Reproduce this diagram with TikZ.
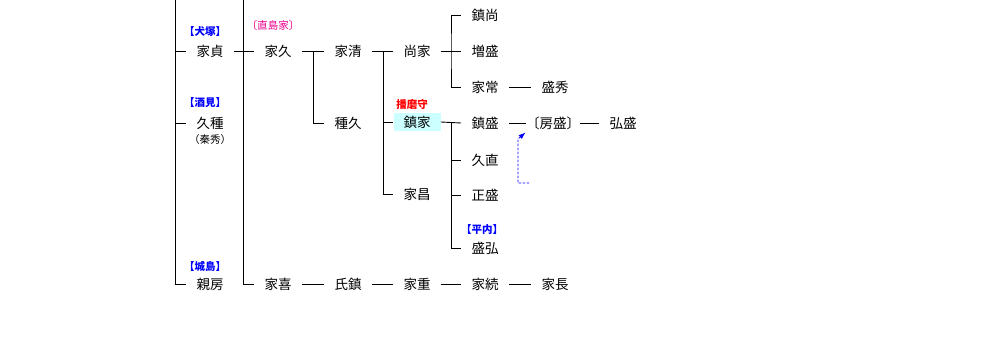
\documentclass[tikz,border=0pt]{standalone}
\usepackage{fontspec}
\setmainfont{Noto Sans CJK JP}
\usetikzlibrary{arrows.meta}
\definecolor{hilite}{RGB}{204,255,255}
\begin{document}
\begin{tikzpicture}[x=1pt,y=-1pt,line width=.9pt,>=latex,
  person/.style={inner xsep=10pt,inner ysep=0pt,minimum height=18pt,font=\fontsize{13.5}{15}\selectfont},
  tag/.style={inner sep=0pt,font=\fontsize{10.5}{12}\selectfont\bfseries,text=blue}]
\useasboundingbox (0,0) rectangle (983,338);
% trunks
\coordinate (t1) at (175,0);
\coordinate (t2) at (243,0);
% first generation
\node[person] (iesada) at (210,51) {家貞};
\node[person] (hisatane) at (210,123) {久種};
\node[person] (chikafusa) at (210,284) {親房};
\node[tag] at (205,32) {【犬塚】};
\node[tag] at (205,103) {【酒見】};
\node[tag] at (205,266) {【城島】};
\node[tag,text=black,font=\fontsize{10.5}{12}\selectfont] at (210,140) {（秦秀）};
% second generation
\node[person] (iehisa) at (278,51) {家久};
\node[person] (ieyoshi) at (278,284) {家喜};
\node[tag,text=magenta,font=\fontsize{10.5}{12}\selectfont] at (273,26) {〔直島家〕};
\node[person] (iekiyo) at (348,51) {家清};
\node[person] (tanehisa) at (348,123) {種久};
\node[person] (ujishige) at (348,284) {氏鎮};
% third generation
\node[person] (naoie) at (417,51) {尚家};
\node[person,fill=hilite] (shigeie) at (417,122) {鎮家};
\node[person] (iemasa) at (417,194) {家昌};
\node[person] (ieshige) at (417,284) {家重};
\node[tag,text=red] at (412,105) {播磨守};
% fourth generation
\node[person] (shigenao) at (485,15) {鎮尚};
\node[person] (masumori) at (485,51) {増盛};
\node[person] (ietsune) at (485,87) {家常};
\node[person] (shigemori) at (485,123) {鎮盛};
\node[person] (hisanao) at (485,160) {久直};
\node[person] (masamori) at (485,195) {正盛};
\node[person] (morihiro) at (485,248) {盛弘};
\node[person] (ietsugu) at (485,284) {家続};
\node[tag] at (482,230) {【平内】};
\node[person] (morihide) at (555,87) {盛秀};
\node[person,inner xsep=0pt] (fusamori) at (553,123) {〔房盛〕};
\node[person] (hiromori) at (623,123) {弘盛};
\node[person] (ienaga) at (555,284) {家長};
% lines
\draw (t1) |- (chikafusa.west);
\draw (t1 |- iesada.west) -- (iesada.west);
\draw (t1 |- hisatane.west) -- (hisatane.west);
\draw (t2) |- (ieyoshi.west);
\draw (iesada.east) -- (iehisa.west);
\draw (iehisa.east) -- (iekiyo.west);
\coordinate (k1) at (313,51);
\draw (k1) |- (tanehisa.west);
\draw (iekiyo.east) -- (naoie.west);
\coordinate (k2) at (383,51);
\draw (k2) |- (iemasa.west);
\draw (k2 |- shigeie.west) -- (shigeie.west);
\coordinate (k3) at (451,51);
\draw (naoie.east) -- (masumori.west);
\draw (shigenao.west) -| (k3) |- (ietsune.west);
\draw (ietsune.east) -- (morihide.west);
\coordinate (k4) at (451,123);
\draw (shigeie.east) -- (shigemori.west);
\draw (k4) |- (morihiro.west);
\draw (k4 |- hisanao.west) -- (hisanao.west);
\draw (k4 |- masamori.west) -- (masamori.west);
\draw (shigemori.east) -- (fusamori.west);
\draw (fusamori.east) -- (hiromori.west);
\draw (ieyoshi.east) -- (ujishige.west);
\draw (ujishige.east) -- (ieshige.west);
\draw (ieshige.east) -- (ietsugu.west);
\draw (ietsugu.east) -- (ienaga.west);
% note arrow
\coordinate (arr) at (529,183);
\draw[blue,line width=.8pt,dash pattern=on 2.5pt off 1.5pt,-{Latex[length=7pt,width=5pt]}] (arr) -- (518,183) -- (518,139) -- (fusamori.south west);
\end{tikzpicture}
\end{document}
